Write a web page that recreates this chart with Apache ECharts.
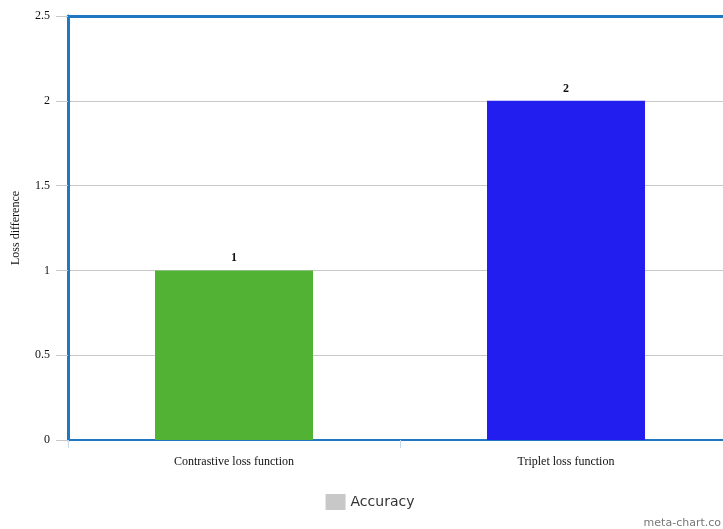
<!DOCTYPE html>
<html><head><meta charset="utf-8">
<script src="https://cdn.jsdelivr.net/npm/echarts@6/dist/echarts.min.js"></script>
<style>html,body{margin:0;padding:0;background:#fff;overflow:hidden}#c{width:740px;height:529px}</style>
</head><body><div id="c"></div>
<script>
const categories = ['Contrastive loss function', 'Triplet loss function'];
const values = [1, 2];
const barColors = ['#52b234', '#231ef0'];
const seriesName = 'Accuracy';
const yTitle = 'Loss difference';

const chart = echarts.init(document.getElementById('c'), null, {renderer: 'canvas'});
const serif = '"Liberation Serif", "Times New Roman", serif';
chart.setOption({
  animation: false,
  backgroundColor: '#fff',
  grid: {left: 68, top: 16, bottom: 89, right: 8, containLabel: false, outerBoundsMode: 'none'},
  legend: {
    bottom: 14, left: 'center', icon: 'rect', itemWidth: 20, itemHeight: 16, itemGap: 6,
    data: [{name: seriesName, itemStyle: {color: '#c8c8c8'}}],
    textStyle: {fontFamily: '"DejaVu Sans", Verdana, sans-serif', fontSize: 14, color: '#333'}
  },
  graphic: [{
    type: 'text', right: 19, bottom: 0,
    style: {text: 'meta-chart.co', fill: '#777', font: '11px "DejaVu Sans", sans-serif'}
  }],
  xAxis: [{
    type: 'category', data: categories, position: 'bottom',
    axisLine: {lineStyle: {color: '#1f78c1', width: 2}},
    axisTick: {show: true, length: 8, alignWithLabel: false, lineStyle: {color: '#c6d9ec'}},
    axisLabel: {fontFamily: serif, fontSize: 12, color: '#111', margin: 16}
  }, {
    type: 'category', data: categories, position: 'top',
    axisLine: {lineStyle: {color: '#1f78c1', width: 3}},
    axisTick: {show: false}, axisLabel: {show: false}
  }],
  yAxis: {
    type: 'value', min: 0, max: 2.5, interval: 0.5,
    name: yTitle, nameLocation: 'middle', nameGap: 46,
    nameTextStyle: {fontFamily: serif, fontSize: 12, color: '#111'},
    axisLine: {show: true, lineStyle: {color: '#1f78c1', width: 3}},
    axisTick: {show: true, length: 12, lineStyle: {color: '#c8c8c8'}},
    axisLabel: {fontFamily: serif, fontSize: 12, color: '#111', margin: 18},
    splitLine: {lineStyle: {color: '#c8c8c8', width: 1}}
  },
  series: [{
    name: seriesName, type: 'bar', barWidth: 158,
    data: values.map((v, i) => ({value: v, itemStyle: {color: barColors[i]}})),
    itemStyle: {color: '#c8c8c8'},
    label: {show: true, position: 'top', distance: 6, fontFamily: serif, fontWeight: 'bold', fontSize: 12, color: '#111'}
  }]
});
</script></body></html>
